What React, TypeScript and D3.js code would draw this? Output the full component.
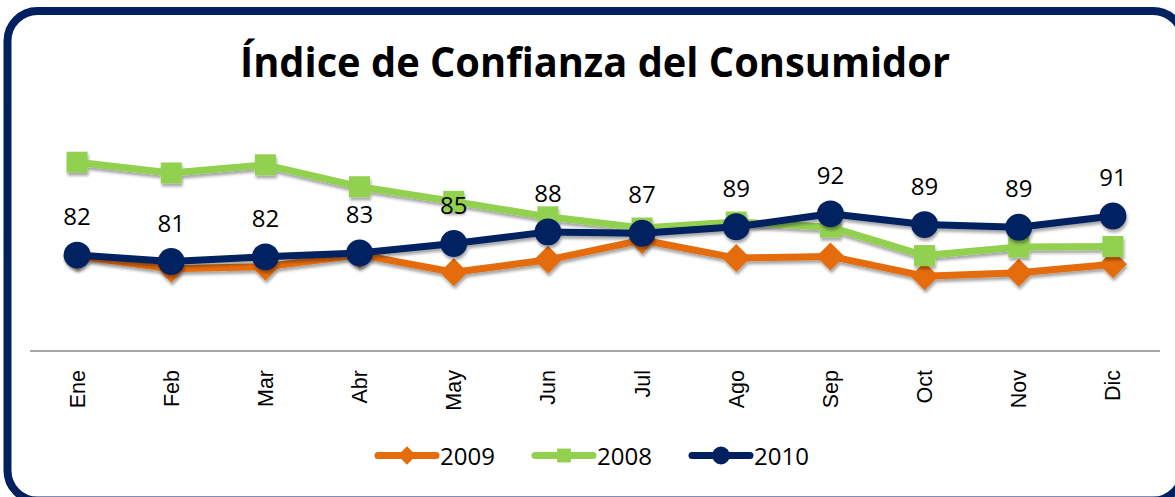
import React from "react";
import * as d3 from "d3";

const months = ["Ene", "Feb", "Mar", "Abr", "May", "Jun", "Jul", "Ago", "Sep", "Oct", "Nov", "Dic"];
const values2009 = [82.1, 79.1, 79.6, 82.4, 78.3, 81.2, 85.8, 81.6, 82.0, 77.4, 78.2, 80.2];
const values2008 = [103.9, 101.4, 103.3, 98.2, 94.8, 91.2, 88.6, 90.0, 88.8, 82.2, 84.2, 84.3];
const values2010 = [82.3, 80.8, 81.9, 82.8, 85.0, 87.7, 87.4, 88.9, 91.9, 89.4, 88.8, 91.4];
const title = "Índice de Confianza del Consumidor";

const W = 1175;
const H = 497;
const NAVY = "#002060";
const ORANGE = "#E46C0A";
const GREEN = "#92D050";

type Series = { name: string; values: number[]; color: string; marker: "diamond" | "square" | "circle" };
const series: Series[] = [
  { name: "2009", values: values2009, color: ORANGE, marker: "diamond" },
  { name: "2008", values: values2008, color: GREEN, marker: "square" },
  { name: "2010", values: values2010, color: NAVY, marker: "circle" },
];

function Marker({ type, x, y, color, s }: { type: string; x: number; y: number; color: string; s: number }) {
  if (type === "circle") return <circle cx={x} cy={y} r={s * 0.48} fill={color} />;
  if (type === "square") return <rect x={x - s * 0.375} y={y - s * 0.375} width={s * 0.75} height={s * 0.75} fill={color} />;
  const h = s * 0.5;
  const p = d3.path();
  p.moveTo(x, y - h);
  p.lineTo(x + h, y);
  p.lineTo(x, y + h);
  p.lineTo(x - h, y);
  p.closePath();
  return <path d={p.toString()} fill={color} />;
}

export default function App() {
  const x = d3.scalePoint<string>().domain(months).range([30, 1160]).padding(0.5);
  const y = d3.scaleLinear().domain([60, 110]).range([351, 136]);
  const fmt = d3.format(".0f");
  const line = d3
    .line<number>()
    .x((_, i) => x(months[i]) as number)
    .y((v) => y(v));

  const legendX = d3.scaleOrdinal<string, number>().domain(series.map((s) => s.name)).range([378, 535, 692]);
  const dataFont = "'Open Sans', 'DejaVu Sans', sans-serif";

  return (
    <svg width={W} height={H} style={{ position: "absolute", left: 0, top: 0, background: "#fff" }}>
      <defs>
        <filter id="shadow" x="-10%" y="-20%" width="120%" height="160%">
          <feDropShadow dx="1" dy="3" stdDeviation="1.6" floodColor="#000" floodOpacity="0.35" />
        </filter>
      </defs>
      <rect x={0} y={0} width={W} height={H} fill="#fff" />
      <rect x={7.5} y={11} width={1175.5} height={489.5} rx={30} ry={30} fill="#fff" stroke={NAVY} strokeWidth={8} />
      <text
        x={595}
        y={77}
        textAnchor="middle"
        fontFamily="'Open Sans', Lato, sans-serif"
        fontWeight="bold"
        fontSize={42}
        textLength={710}
        lengthAdjust="spacingAndGlyphs"
        fill="#000"
      >
        {title}
      </text>

      <line x1={30} x2={1160} y1={351} y2={351} stroke="#a6a6a6" strokeWidth={2} />
      {months.map((m) => (
        <text
          key={m}
          transform={`translate(${x(m)},370) rotate(-90)`}
          textAnchor="end"
          dy="0.35em"
          fontFamily="'Liberation Sans', Arial, sans-serif"
          fontSize={21.5}
          fill="#000"
        >
          {m}
        </text>
      ))}

      {series.map((s) => (
        <g key={s.name} filter="url(#shadow)">
          <path d={line(s.values) || ""} fill="none" stroke={s.color} strokeWidth={7} strokeLinejoin="round" strokeLinecap="round" />
          {s.values.map((v, i) => (
            <Marker key={i} type={s.marker} x={x(months[i]) as number} y={y(v)} color={s.color} s={28} />
          ))}
        </g>
      ))}

      {values2010.map((v, i) => (
        <text key={i} x={x(months[i])} y={y(v) - 30} textAnchor="middle" fontFamily={dataFont} fontSize={24} fill="#000">
          {fmt(v)}
        </text>
      ))}

      {series.map((s) => {
        const lx = legendX(s.name);
        const ly = 455.5;
        return (
          <g key={s.name}>
            <line x1={lx} x2={lx + 58} y1={ly} y2={ly} stroke={s.color} strokeWidth={7} strokeLinecap="round" />
            <Marker type={s.marker} x={lx + 29} y={ly} color={s.color} s={18.5} />
            <text x={lx + 62} y={465} fontFamily={dataFont} fontSize={24} fill="#000">
              {s.name}
            </text>
          </g>
        );
      })}
    </svg>
  );
}
